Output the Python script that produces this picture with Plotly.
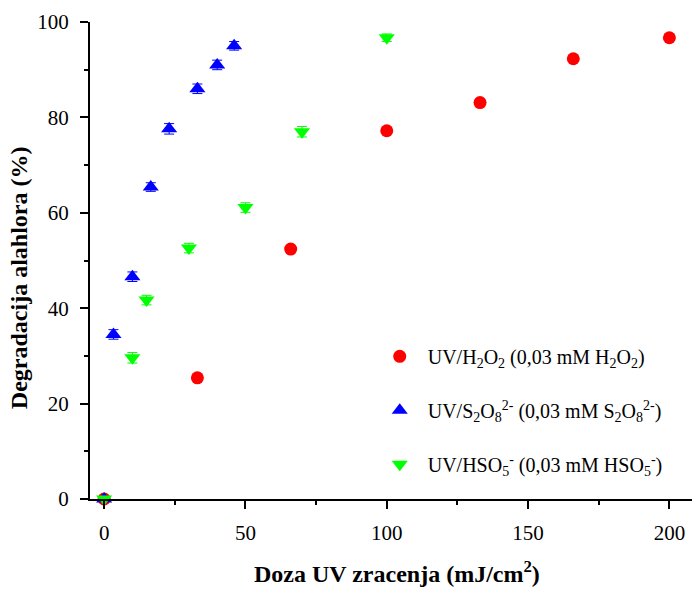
import plotly.graph_objects as go

# UV dose (mJ/cm2) and alachlor degradation (%) for each oxidant
dose_h2o2 = [0, 33, 66, 100, 133, 166, 200]
deg_h2o2 = [0, 25.4, 52.4, 77.2, 83.1, 92.3, 96.7]
err_h2o2 = [0.3, 0.4, 0.4, 0.5, 0.5, 0.5, 0.5]

dose_s2o8 = [0, 3.3, 10, 16.5, 23, 33, 40, 46]
deg_s2o8 = [0, 34.5, 46.6, 65.4, 77.6, 86.0, 91.0, 95.0]
err_s2o8 = [0.5, 1.0, 1.0, 0.9, 1.1, 1.0, 1.0, 0.9]

dose_hso5 = [0, 10, 15, 30, 50, 70, 100]
deg_hso5 = [0, 29.6, 41.7, 52.6, 61.1, 77.0, 96.7]
err_hso5 = [0.5, 1.1, 1.0, 1.0, 1.0, 1.1, 0.8]

names = [
    "UV/H<sub>2</sub>O<sub>2</sub> (0,03 mM H<sub>2</sub>O<sub>2</sub>)",
    "UV/S<sub>2</sub>O<sub>8</sub><sup>2-</sup> (0,03 mM S<sub>2</sub>O<sub>8</sub><sup>2-</sup>)",
    "UV/HSO<sub>5</sub><sup>-</sup> (0,03 mM HSO<sub>5</sub><sup>-</sup>)",
]

FONT = "Liberation Serif"

fig = go.Figure()
series = [
    (dose_h2o2, deg_h2o2, err_h2o2, "#ff0000", "circle", 13, names[0]),
    (dose_s2o8, deg_s2o8, err_s2o8, "#0000ff", "triangle-up", 14, names[1]),
    (dose_hso5, deg_hso5, err_hso5, "#00ff00", "triangle-down", 14, names[2]),
]
for i, (x, y, e, col, sym, sz, nm) in enumerate(series):
    fig.add_trace(go.Scatter(
        x=x, y=y, mode="markers", name=nm, legendgroup=f"g{i}",
        marker=dict(color=col, symbol=sym, size=sz, line=dict(width=0)),
        error_y=dict(type="data", array=e, visible=True, color=col,
                     thickness=1, width=5),
        cliponaxis=False,
    ))

axis_common = dict(
    showline=True, linecolor="black", linewidth=2,
    ticks="outside", ticklen=8, tickwidth=2, tickcolor="black",
    showgrid=False, zeroline=False,
    tickfont=dict(family=FONT, size=21, color="black"),
)

fig.update_layout(
    width=692, height=591,
    margin=dict(l=90, r=0, t=22, b=92),
    plot_bgcolor="white", paper_bgcolor="white",
    font=dict(family=FONT, color="black"),
    xaxis=dict(
        range=[-5, 208], tickvals=[0, 50, 100, 150, 200],
        minor=dict(tickvals=[25, 75, 125, 175], ticklen=4, tickwidth=2,
                   tickcolor="black", ticks="outside"),
        ticklabelstandoff=6,
        **axis_common,
    ),
    yaxis=dict(
        range=[0, 100], tickvals=[0, 20, 40, 60, 80, 100],
        minor=dict(tickvals=[10, 30, 50, 70, 90], ticklen=4, tickwidth=2,
                   tickcolor="black", ticks="outside"),
        ticklabelstandoff=7,
        **axis_common,
    ),
    legend=dict(
        x=0.468, y=0.34, xanchor="left", yanchor="top",
        font=dict(family=FONT, size=20, color="black"),
        tracegroupgap=25, bgcolor="rgba(0,0,0,0)",
        itemwidth=46,
    ),
    showlegend=True,
)

# Axis titles, placed as annotations relative to the plot area
fig.add_annotation(
    text="<b>Doza UV zracenja (mJ/cm<sup>2</sup>)</b>",
    xref="paper", yref="paper", x=0.51, y=-0.152,
    xanchor="center", yanchor="middle", showarrow=False,
    font=dict(family=FONT, size=24, color="black"),
)
fig.add_annotation(
    text="<b>Degradacija alahlora (%)</b>",
    xref="paper", yref="paper", x=-0.118, y=0.465,
    xanchor="center", yanchor="middle", textangle=-90, showarrow=False,
    font=dict(family=FONT, size=24, color="black"),
)

fig.write_html("out.html")
